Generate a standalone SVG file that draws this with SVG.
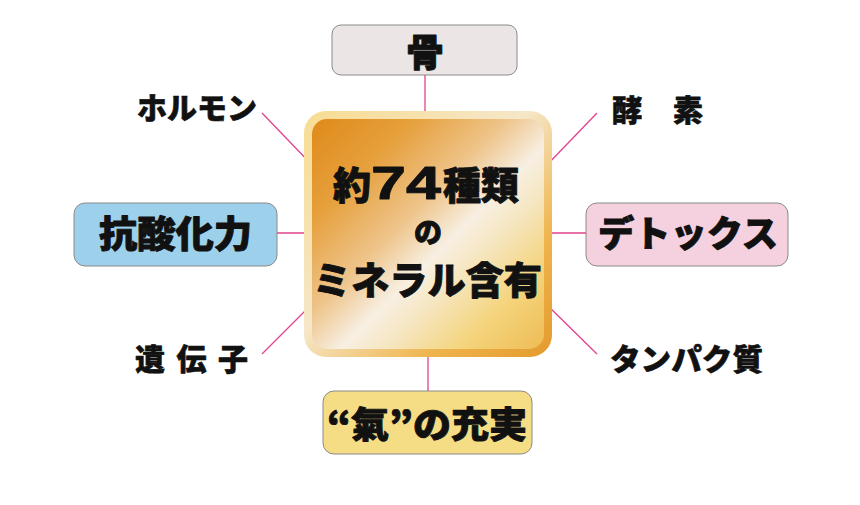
<svg xmlns="http://www.w3.org/2000/svg" width="860" height="505" viewBox="0 0 860 505">
<defs>
<linearGradient id="gFrame" x1="0" y1="0" x2="1" y2="1">
<stop offset="0" stop-color="#f8dc92"/>
<stop offset="0.45" stop-color="#f5e7c8"/>
<stop offset="0.75" stop-color="#efb44c"/>
<stop offset="1" stop-color="#e39a2c"/>
</linearGradient>
<linearGradient id="gInner" x1="0" y1="0" x2="1" y2="1">
<stop offset="0" stop-color="#e08a1a"/>
<stop offset="0.22" stop-color="#e6a03c"/>
<stop offset="0.42" stop-color="#eec48a"/>
<stop offset="0.56" stop-color="#f7efe2"/>
<stop offset="0.66" stop-color="#f6e6c0"/>
<stop offset="0.82" stop-color="#f4d47c"/>
<stop offset="1" stop-color="#efbc55"/>
</linearGradient>
<style>
.conn{stroke:#e2428e;stroke-width:1.3;fill:none}
.t{font-family:"Noto Sans CJK JP","Noto Sans CJK SC",sans-serif;font-weight:900;fill:#111;stroke:#111;stroke-width:0.9;stroke-linejoin:round}
.s{stroke-width:0.6}
.box{stroke:#8a8a8a;stroke-width:1}
</style>
</defs>
<rect width="860" height="505" fill="#ffffff"/>
<g id="connectors">
<line class="conn" x1="425" y1="75" x2="425" y2="113"/>
<line class="conn" x1="277" y1="233" x2="312" y2="233"/>
<line class="conn" x1="544" y1="233" x2="586" y2="233"/>
<line class="conn" x1="428" y1="356" x2="428" y2="391"/>
<line class="conn" x1="262" y1="113" x2="313" y2="166"/>
<line class="conn" x1="597" y1="113" x2="545" y2="167"/>
<line class="conn" x1="262" y1="354" x2="313" y2="303"/>
<line class="conn" x1="545" y1="303" x2="597" y2="354"/>
</g>
<g id="center">
<rect x="304" y="111" width="248" height="246" rx="22" fill="url(#gFrame)"/>
<rect x="312" y="119" width="232" height="230" rx="15" fill="url(#gInner)"/>
<text class="t" y="199" font-size="38"><tspan x="333">約</tspan><tspan x="371" font-family="'Liberation Sans',sans-serif" font-size="46" textLength="70" lengthAdjust="spacingAndGlyphs">74</tspan><tspan x="443">種類</tspan></text>
<text class="t" x="428" y="243" font-size="28" text-anchor="middle">の</text>
<text class="t" x="313" y="294" font-size="38" textLength="229" lengthAdjust="spacingAndGlyphs">ミネラル含有</text>
</g>
<g id="bone">
<rect class="box" x="332" y="25" width="185" height="50" rx="9" fill="#ebe5e6"/>
<text class="t" x="425" y="66" font-size="38" text-anchor="middle">骨</text>
</g>
<g id="antiox">
<rect class="box" x="74" y="203" width="203" height="63" rx="11" fill="#9dd0ea"/>
<text class="t" x="99" y="248" font-size="37" textLength="153" lengthAdjust="spacingAndGlyphs">抗酸化力</text>
</g>
<g id="detox">
<rect class="box" x="586" y="203" width="202" height="63" rx="11" fill="#f5d0df"/>
<text class="t" x="598" y="247" font-size="36" textLength="180" lengthAdjust="spacingAndGlyphs">デトックス</text>
</g>
<g id="ki">
<rect class="box" x="323" y="391" width="209" height="63" rx="11" fill="#f5dd85"/>
<text class="t" x="327" y="438" font-size="36" textLength="200" lengthAdjust="spacingAndGlyphs">“氣”の充実</text>
</g>
<g id="hormone">
<text class="t s" x="137" y="119" font-size="30" textLength="120" lengthAdjust="spacingAndGlyphs">ホルモン</text>
</g>
<g id="enzyme">
<text class="t s" x="612" y="121" font-size="30" textLength="91" lengthAdjust="spacingAndGlyphs">酵　素</text>
</g>
<g id="gene">
<text class="t s" x="135" y="370" font-size="30" textLength="113" lengthAdjust="spacing">遺 伝 子</text>
</g>
<g id="protein">
<text class="t s" x="610" y="370" font-size="30" textLength="153" lengthAdjust="spacingAndGlyphs">タンパク質</text>
</g>
</svg>
